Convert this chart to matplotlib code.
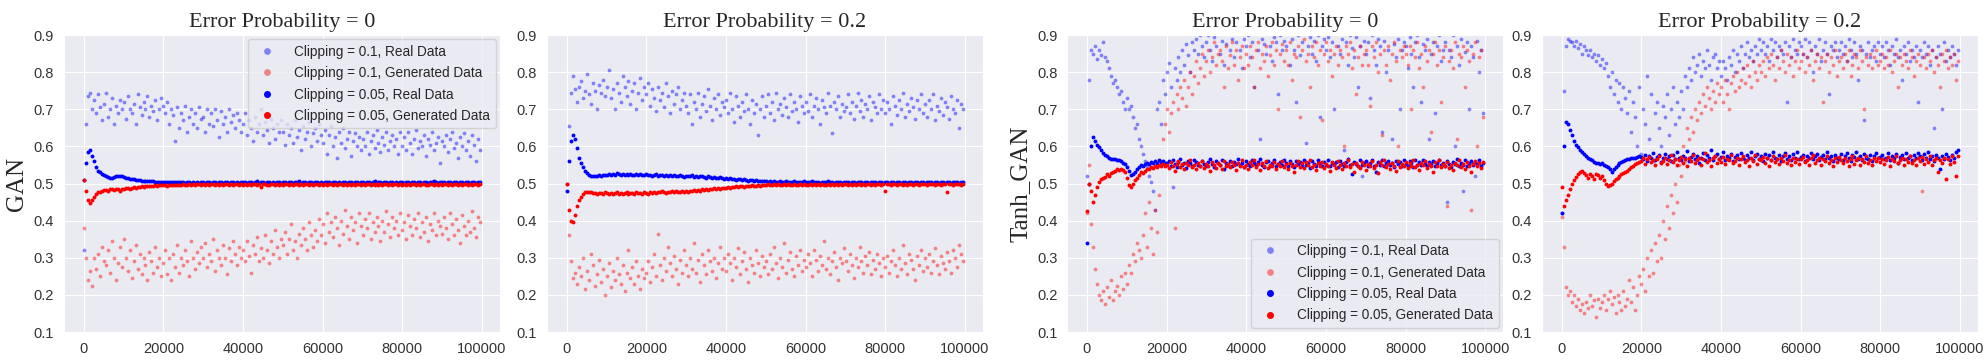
import numpy as np
import matplotlib
matplotlib.use("Agg")
from matplotlib import pyplot as plt
import seaborn as sns

# iteration step between logged points
STEP = 500

titles = ["Error Probability = 0", "Error Probability = 0.2",
          "Error Probability = 0", "Error Probability = 0.2"]
ylabels = ["GAN", None, "Tanh_GAN", None]
labels = ["Clipping = 0.1, Real Data", "Clipping = 0.1, Generated Data",
          "Clipping = 0.05, Real Data", "Clipping = 0.05, Generated Data"]
yticks = [0.1, 0.2, 0.3, 0.4, 0.5, 0.6, 0.7, 0.8, 0.9]
xticks = [0, 20000, 40000, 60000, 80000, 100000]

# all values below are discriminator outputs in thousandths

# ---- GAN, error probability 0 ----
gan0_real01 = [
    320, 660, 735, 745, 700, 725, 690, 740, 705, 670, 715, 745, 680, 700, 730, 660, 710, 690, 725, 700,
    720, 675, 735, 700, 690, 715, 660, 740, 705, 685, 720, 700, 735, 680, 710, 695, 725, 670, 700, 730,
    710, 690, 720, 660, 700, 685, 615, 705, 650, 690, 670, 710, 640, 680, 700, 660, 690, 650, 705, 675,
    680, 640, 700, 660, 690, 655, 700, 670, 625, 695, 660, 680, 640, 700, 665, 685, 650, 690, 670, 640,
    660, 690, 630, 670, 650, 615, 680, 640, 660, 700, 630, 665, 645, 610, 675, 650, 620, 660, 640, 670,
    640, 605, 660, 630, 650, 610, 670, 625, 645, 590, 655, 620, 640, 665, 600, 635, 650, 615, 660, 630,
    610, 645, 580, 630, 655, 600, 625, 570, 640, 610, 650, 595, 620, 640, 575, 615, 635, 600, 625, 590,
    620, 600, 640, 580, 615, 630, 595, 645, 610, 585, 625, 605, 640, 590, 615, 630, 600, 620, 580, 640,
    600, 625, 590, 640, 610, 580, 620, 645, 595, 615, 600, 630, 575, 620, 605, 640, 590, 610, 625, 555,
    615, 600, 630, 585, 620, 640, 595, 610, 570, 625, 600, 635, 590, 615, 575, 630, 605, 560, 620, 590,
]
gan0_gen01 = [
    380, 300, 240, 265, 225, 300, 270, 310, 250, 330, 290, 280, 320, 260, 345, 300, 240, 285, 330, 275,
    350, 300, 265, 320, 245, 290, 335, 270, 310, 255, 300, 280, 240, 315, 290, 260, 330, 275, 300, 250,
    285, 320, 255, 300, 240, 310, 275, 335, 260, 300, 280, 320, 290, 250, 345, 300, 270, 315, 285, 330,
    300, 340, 275, 310, 290, 350, 265, 320, 300, 280, 335, 300, 255, 325, 290, 345, 310, 280, 330, 300,
    320, 290, 345, 305, 260, 335, 310, 355, 290, 325, 300, 360, 320, 285, 345, 310, 375, 330, 300, 350,
    335, 370, 310, 350, 390, 320, 345, 300, 365, 335, 380, 350, 320, 395, 360, 330, 375, 345, 405, 360,
    390, 340, 420, 370, 395, 355, 410, 380, 335, 400, 365, 430, 385, 350, 410, 375, 395, 340, 420, 385,
    360, 405, 380, 420, 350, 395, 370, 410, 385, 345, 400, 370, 425, 390, 355, 410, 380, 400, 360, 420,
    375, 395, 350, 415, 385, 360, 405, 380, 420, 355, 395, 370, 410, 345, 390, 375, 420, 360, 400, 385,
    365, 410, 380, 350, 420, 390, 360, 405, 375, 340, 415, 385, 360, 400, 370, 425, 380, 355, 410, 395,
]
gan0_real005 = [
    510, 555, 585, 590, 575, 560, 545, 535, 530, 525, 522, 520, 518, 516, 515, 517, 519, 520, 521, 519,
    518, 516, 514, 513, 512, 511, 510, 510, 509, 508, 508, 507, 507, 506, 506, 506, 505, 505, 505, 504,
    505, 504, 504, 505, 503, 504, 503, 504, 503, 503, 504, 502, 503, 503, 502, 503, 502, 503, 502, 503,
    503, 502, 504, 503, 502, 505, 503, 502, 504, 503, 502, 503, 505, 502, 503, 504, 502, 503, 501, 504,
    503, 505, 502, 503, 504, 502, 503, 506, 502, 503, 504, 502, 503, 505, 502, 503, 501, 504, 503, 502,
    504, 503, 502, 505, 503, 502, 504, 503, 506, 502, 503, 504, 502, 503, 505, 502, 503, 504, 502, 503,
    502, 504, 503, 505, 502, 503, 504, 502, 503, 501, 504, 503, 502, 505, 503, 502, 504, 503, 502, 503,
    505, 502, 503, 504, 502, 503, 506, 502, 503, 504, 502, 503, 505, 502, 503, 504, 502, 503, 501, 504,
    503, 502, 504, 503, 502, 505, 503, 502, 504, 503, 502, 503, 505, 502, 503, 504, 508, 503, 502, 504,
    503, 505, 502, 503, 504, 502, 503, 505, 502, 503, 504, 502, 503, 505, 502, 503, 504, 502, 503, 504,
]
gan0_gen005 = [
    510, 480, 455, 448, 455, 465, 472, 476, 478, 480, 482, 483, 481, 484, 485, 482, 486, 484, 480, 486,
    485, 487, 488, 486, 489, 490, 488, 491, 490, 492, 491, 493, 492, 494, 493, 494, 495, 494, 496, 495,
    495, 496, 494, 496, 497, 495, 496, 497, 496, 497, 498, 496, 497, 498, 497, 498, 497, 498, 499, 497,
    498, 497, 499, 496, 498, 500, 497, 498, 496, 499, 497, 498, 500, 496, 498, 497, 499, 498, 496, 500,
    497, 498, 496, 499, 497, 498, 500, 496, 498, 490, 499, 498, 496, 497, 499, 498, 497, 500, 496, 498,
    497, 499, 498, 496, 500, 497, 498, 499, 496, 498, 497, 500, 498, 496, 499, 497, 498, 500, 497, 498,
    496, 499, 497, 498, 500, 496, 498, 497, 499, 498, 496, 500, 497, 498, 496, 499, 497, 498, 500, 496,
    498, 497, 499, 498, 496, 500, 497, 498, 496, 499, 497, 498, 500, 496, 498, 497, 499, 498, 496, 500,
    497, 498, 496, 499, 497, 498, 500, 496, 498, 497, 499, 498, 496, 497, 499, 498, 497, 500, 496, 498,
    497, 499, 498, 496, 500, 497, 498, 499, 496, 498, 497, 500, 498, 496, 499, 497, 498, 500, 497, 499,
]

# ---- GAN, error probability 0.2 ----
gan2_real01 = [
    500, 655, 745, 790, 755, 720, 760, 775, 730, 750, 795, 740, 715, 770, 750, 700, 765, 745, 780, 735,
    760, 805, 730, 755, 700, 770, 745, 720, 790, 760, 735, 775, 715, 750, 770, 700, 745, 785, 725, 760,
    740, 770, 710, 755, 730, 695, 760, 725, 745, 705, 770, 735, 690, 750, 715, 740, 760, 700, 725, 745,
    710, 690, 740, 660, 720, 700, 745, 680, 715, 735, 695, 755, 710, 670, 730, 700, 740, 685, 720, 705,
    725, 690, 745, 700, 665, 735, 710, 680, 720, 695, 740, 700, 660, 725, 690, 715, 630, 700, 735, 680,
    710, 740, 690, 720, 670, 745, 700, 715, 685, 730, 705, 680, 740, 695, 720, 700, 665, 735, 710, 690,
    720, 695, 740, 680, 710, 730, 700, 660, 725, 705, 690, 745, 710, 635, 720, 700, 735, 680, 715, 695,
    705, 740, 690, 720, 675, 710, 745, 695, 725, 680, 715, 700, 735, 670, 720, 705, 690, 740, 700, 725,
    690, 720, 700, 660, 735, 710, 685, 725, 700, 745, 680, 715, 695, 730, 705, 675, 725, 700, 740, 690,
    715, 680, 725, 700, 740, 670, 710, 695, 730, 685, 720, 705, 675, 735, 700, 690, 725, 650, 715, 700,
]
gan2_gen01 = [
    500, 360, 290, 245, 260, 230, 275, 250, 300, 215, 265, 240, 310, 280, 225, 255, 295, 235, 270, 200,
    250, 285, 220, 265, 240, 300, 255, 230, 280, 210, 260, 320, 245, 275, 230, 290, 250, 215, 270, 245,
    260, 290, 235, 275, 310, 250, 365, 280, 240, 300, 265, 330, 285, 250, 305, 270, 230, 295, 260, 320,
    280, 250, 300, 270, 340, 260, 295, 235, 310, 280, 255, 320, 290, 265, 300, 245, 285, 330, 270, 300,
    265, 310, 285, 240, 300, 275, 325, 255, 290, 315, 270, 235, 300, 280, 260, 320, 285, 250, 305, 275,
    290, 255, 310, 270, 330, 285, 245, 300, 275, 340, 260, 295, 315, 270, 250, 305, 280, 320, 265, 295,
    275, 310, 285, 250, 320, 295, 265, 305, 280, 345, 270, 300, 255, 290, 315, 275, 240, 300, 285, 325,
    290, 265, 310, 280, 245, 300, 275, 330, 290, 260, 305, 280, 315, 255, 295, 270, 310, 285, 250, 300,
    275, 305, 260, 290, 320, 280, 250, 300, 270, 335, 285, 255, 310, 295, 270, 240, 305, 280, 320, 265,
    300, 275, 310, 260, 290, 325, 280, 255, 305, 285, 270, 315, 290, 260, 320, 300, 275, 335, 310, 290,
]
gan2_real005 = [
    480, 560, 615, 630, 620, 595, 570, 555, 545, 535, 528, 522, 520, 519, 520, 521, 522, 520, 523, 524,
    524, 525, 523, 526, 524, 527, 525, 523, 526, 524, 525, 522, 526, 524, 523, 525, 522, 526, 523, 524,
    525, 522, 524, 520, 523, 525, 521, 524, 522, 520, 523, 521, 524, 520, 522, 519, 521, 523, 520, 518,
    521, 519, 520, 522, 518, 520, 517, 519, 521, 518, 516, 519, 517, 515, 518, 516, 514, 517, 515, 513,
    515, 512, 514, 511, 513, 510, 512, 511, 509, 511, 510, 508, 510, 509, 507, 509, 508, 506, 508, 507,
    506, 505, 507, 504, 506, 505, 504, 506, 503, 505, 507, 504, 505, 503, 506, 504, 505, 503, 504, 506,
    505, 503, 504, 506, 503, 505, 504, 502, 505, 503, 504, 506, 503, 504, 502, 505, 503, 504, 502, 505,
    503, 504, 502, 505, 503, 502, 504, 503, 505, 502, 504, 503, 502, 505, 503, 504, 502, 503, 505, 502,
    504, 503, 502, 505, 503, 502, 504, 503, 501, 504, 503, 502, 505, 503, 502, 504, 503, 502, 504, 503,
    502, 504, 503, 505, 502, 503, 504, 502, 503, 505, 502, 504, 503, 502, 504, 503, 505, 502, 503, 504,
]
gan2_gen005 = [
    500, 430, 400, 395, 415, 440, 455, 465, 472, 476, 478, 477, 476, 475, 474, 473, 475, 474, 472, 476,
    474, 473, 475, 472, 474, 476, 473, 475, 472, 474, 476, 473, 475, 474, 472, 476, 474, 475, 473, 476,
    475, 473, 476, 474, 477, 475, 478, 476, 479, 477, 475, 478, 476, 479, 477, 480, 478, 476, 479, 478,
    480, 478, 481, 479, 482, 480, 483, 481, 484, 482, 485, 483, 486, 484, 487, 485, 488, 486, 489, 487,
    488, 490, 489, 491, 490, 492, 491, 493, 492, 491, 494, 492, 493, 495, 493, 494, 496, 494, 495, 496,
    496, 498, 495, 497, 499, 496, 498, 497, 495, 498, 496, 499, 497, 495, 498, 496, 497, 499, 496, 498,
    497, 495, 498, 496, 499, 497, 498, 496, 499, 497, 495, 498, 497, 499, 496, 498, 497, 499, 496, 498,
    499, 497, 498, 496, 499, 497, 498, 500, 496, 498, 497, 499, 498, 496, 499, 497, 498, 500, 497, 498,
    480, 498, 499, 497, 498, 500, 497, 499, 498, 496, 499, 497, 498, 500, 497, 499, 498, 497, 499, 500,
    498, 497, 499, 498, 500, 497, 498, 499, 497, 498, 500, 476, 498, 499, 497, 500, 498, 499, 497, 500,
]

# ---- Tanh_GAN, error probability 0 ----
tanh0_real01 = [
    520, 780, 860, 850, 870, 835, 860, 845, 880, 840, 830, 810, 790, 770, 780, 760, 740, 750, 720, 700,
    730, 700, 710, 680, 650, 660, 620, 600, 580, 560, 545, 520, 505, 480, 430, 700, 720, 660, 780, 740,
    800, 825, 760, 490, 810, 780, 840, 800, 860, 820, 875, 845, 800, 880, 860, 890, 850, 900, 870, 840,
    880, 900, 860, 830, 895, 870, 910, 850, 885, 820, 875, 905, 860, 890, 840, 880, 915, 860, 810, 890,
    870, 900, 840, 880, 760, 905, 860, 620, 890, 875, 850, 910, 870, 830, 895, 880, 740, 900, 860, 885,
    870, 905, 820, 890, 860, 720, 900, 845, 880, 910, 610, 870, 895, 850, 885, 830, 900, 680, 870, 890,
    860, 895, 840, 880, 700, 905, 870, 850, 890, 590, 880, 820, 900, 865, 840, 895, 760, 870, 520, 885,
    850, 880, 730, 900, 860, 820, 890, 870, 640, 885, 800, 860, 905, 620, 875, 840, 890, 700, 860, 880,
    870, 810, 895, 850, 760, 880, 900, 840, 720, 875, 860, 890, 620, 850, 880, 690, 870, 900, 830, 860,
    880, 450, 860, 840, 900, 600, 870, 820, 890, 480, 855, 880, 700, 870, 840, 520, 885, 800, 860, 690,
]
tanh0_gen01 = [
    420, 550, 390, 330, 270, 230, 200, 185, 210, 175, 220, 195, 240, 185, 210, 225, 200, 250, 215, 260,
    230, 280, 260, 310, 290, 340, 320, 300, 360, 420, 330, 450, 380, 310, 430, 370, 470, 560, 620, 660,
    700, 640, 690, 720, 380, 740, 700, 760, 730, 780, 710, 760, 800, 740, 790, 830, 770, 810, 850, 790,
    830, 860, 800, 840, 880, 820, 850, 860, 830, 760, 870, 810, 845, 880, 820, 860, 780, 840, 870, 810,
    850, 820, 870, 840, 760, 860, 880, 810, 850, 830, 870, 790, 845, 880, 820, 860, 700, 850, 875, 830,
    860, 820, 880, 780, 850, 840, 870, 680, 860, 890, 830, 850, 760, 870, 840, 880, 820, 860, 670, 850,
    880, 830, 860, 790, 850, 870, 820, 860, 840, 600, 870, 850, 880, 810, 860, 740, 840, 870, 820, 850,
    860, 820, 710, 870, 840, 880, 800, 850, 630, 860, 820, 870, 780, 850, 880, 830, 600, 860, 840, 870,
    850, 820, 870, 700, 860, 840, 880, 810, 850, 760, 870, 830, 860, 640, 850, 880, 820, 860, 720, 840,
    870, 440, 830, 860, 810, 880, 620, 850, 840, 870, 760, 860, 830, 430, 850, 880, 600, 840, 860, 680,
]
tanh0_real005 = [
    340, 500, 600, 625, 615, 605, 598, 590, 583, 578, 574, 570, 567, 565, 566, 564, 562, 560, 556, 552,
    545, 535, 522, 525, 532, 540, 545, 550, 548, 553, 556, 552, 558, 555, 560, 556, 562, 558, 560, 555,
    555, 560, 548, 562, 553, 545, 558, 565, 550, 556, 542, 560, 554, 548, 563, 557, 550, 546, 561, 553,
    548, 558, 566, 552, 545, 560, 555, 549, 563, 540, 556, 551, 560, 547, 558, 553, 565, 549, 556, 544,
    560, 552, 547, 563, 555, 549, 558, 566, 551, 545, 557, 560, 548, 554, 562, 546, 553, 559, 550, 564,
    556, 548, 561, 553, 545, 560, 552, 558, 547, 564, 551, 556, 543, 560, 553, 548, 562, 555, 546, 558,
    550, 563, 547, 556, 552, 559, 544, 561, 553, 548, 557, 565, 550, 525, 558, 553, 546, 562, 549, 556,
    560, 547, 554, 562, 548, 530, 557, 551, 563, 546, 555, 560, 549, 556, 544, 561, 552, 558, 547, 563,
    553, 548, 560, 555, 545, 562, 551, 557, 549, 564, 553, 546, 558, 552, 560, 547, 556, 562, 550, 555,
    548, 561, 553, 545, 559, 552, 566, 548, 556, 550, 562, 547, 555, 560, 549, 557, 552, 563, 546, 556,
]
tanh0_gen005 = [
    425, 500, 480, 450, 470, 490, 505, 512, 515, 518, 525, 520, 528, 530, 535, 538, 536, 540, 537, 530,
    515, 495, 490, 500, 510, 515, 522, 530, 528, 535, 538, 540, 545, 542, 548, 545, 550, 546, 552, 548,
    550, 543, 557, 548, 535, 552, 560, 545, 553, 540, 556, 549, 562, 544, 551, 538, 555, 547, 560, 542,
    553, 546, 535, 558, 549, 543, 556, 551, 539, 561, 547, 553, 544, 557, 550, 536, 555, 548, 562, 545,
    551, 540, 557, 549, 563, 544, 552, 537, 556, 548, 560, 543, 551, 546, 558, 539, 553, 547, 561, 544,
    552, 538, 556, 548, 530, 551, 560, 545, 554, 541, 557, 549, 563, 544, 550, 536, 555, 547, 559, 542,
    553, 546, 534, 557, 549, 543, 560, 551, 538, 555, 548, 562, 544, 552, 530, 556, 547, 541, 558, 550,
    536, 553, 546, 560, 543, 551, 528, 557, 549, 562, 545, 553, 539, 556, 548, 535, 560, 544, 552, 547,
    558, 541, 554, 548, 563, 545, 551, 537, 556, 549, 560, 543, 552, 546, 530, 557, 548, 562, 544, 553,
    547, 559, 542, 551, 536, 556, 549, 562, 545, 553, 540, 557, 548, 531, 552, 560, 546, 554, 543, 558,
]

# ---- Tanh_GAN, error probability 0.2 ----
tanh2_real01 = [
    420, 750, 870, 890, 885, 880, 870, 885, 865, 875, 850, 870, 860, 845, 860, 840, 850, 830, 845, 820,
    835, 810, 825, 790, 760, 800, 740, 780, 720, 770, 700, 760, 730, 690, 750, 640, 720, 680, 600, 760,
    580, 700, 660, 790, 620, 740, 560, 690, 720, 650, 600, 710, 680, 740, 630, 700, 760, 660, 720, 680,
    750, 700, 790, 760, 810, 780, 840, 800, 820, 850, 790, 830, 810, 860, 820, 780, 840, 850, 810, 830,
    790, 830, 810, 780, 840, 820, 860, 800, 850, 830, 870, 810, 850, 880, 840, 860, 830, 870, 850, 890,
    860, 880, 850, 870, 830, 890, 860, 880, 840, 870, 860, 850, 880, 720, 870, 840, 890, 860, 850, 880,
    870, 850, 890, 840, 880, 860, 800, 870, 850, 890, 830, 860, 880, 850, 740, 870, 860, 880, 840, 860,
    880, 850, 870, 830, 890, 860, 840, 880, 850, 780, 870, 860, 670, 850, 880, 840, 860, 870, 830, 880,
    850, 870, 840, 880, 860, 820, 870, 850, 890, 840, 860, 780, 870, 850, 880, 830, 860, 840, 870, 720,
    860, 840, 880, 850, 870, 820, 860, 650, 840, 870, 850, 700, 880, 830, 860, 840, 870, 850, 820, 860,
]
tanh2_gen01 = [
    410, 330, 220, 200, 210, 180, 200, 170, 190, 160, 175, 150, 180, 165, 200, 170, 185, 140, 190, 165,
    180, 200, 160, 190, 210, 175, 195, 150, 200, 180, 160, 210, 170, 190, 240, 180, 220, 160, 200, 250,
    230, 270, 210, 300, 250, 320, 260, 340, 290, 360, 300, 400, 350, 440, 380, 470, 420, 500, 450, 550,
    520, 600, 560, 650, 620, 680, 640, 700, 670, 720, 690, 740, 710, 760, 730, 700, 750, 720, 770, 740,
    760, 720, 780, 740, 700, 770, 790, 750, 800, 760, 780, 810, 770, 820, 790, 760, 830, 800, 780, 820,
    800, 830, 790, 840, 810, 850, 820, 780, 840, 810, 860, 830, 800, 850, 820, 840, 790, 830, 860, 810,
    830, 850, 800, 840, 820, 860, 780, 830, 850, 810, 840, 720, 830, 850, 800, 840, 820, 860, 790, 830,
    840, 810, 850, 830, 860, 790, 820, 850, 840, 810, 860, 830, 700, 840, 820, 850, 810, 840, 860, 820,
    830, 850, 810, 840, 820, 860, 800, 830, 850, 760, 840, 820, 850, 830, 810, 860, 840, 790, 830, 850,
    820, 480, 840, 810, 850, 830, 860, 800, 840, 820, 760, 850, 830, 860, 810, 840, 820, 850, 780, 830,
]
tanh2_real005 = [
    420, 600, 665, 660, 645, 630, 615, 605, 598, 590, 585, 580, 575, 570, 565, 562, 558, 555, 556, 553,
    555, 550, 548, 545, 538, 532, 540, 545, 550, 555, 558, 560, 562, 565, 566, 568, 570, 568, 572, 575,
    572, 565, 578, 560, 574, 568, 582, 563, 571, 576, 558, 569, 580, 565, 573, 561, 577, 567, 584, 570,
    563, 575, 568, 587, 561, 572, 579, 566, 574, 556, 570, 581, 564, 576, 568, 590, 562, 573, 579, 566,
    571, 585, 563, 574, 569, 580, 560, 572, 578, 565, 582, 570, 562, 576, 568, 585, 564, 573, 579, 567,
    574, 561, 580, 569, 576, 563, 584, 570, 566, 578, 560, 573, 582, 567, 575, 563, 579, 570, 586, 565,
    572, 578, 561, 575, 568, 583, 566, 573, 580, 562, 571, 577, 565, 584, 569, 574, 561, 578, 570, 567,
    579, 564, 573, 582, 568, 560, 576, 571, 585, 566, 574, 563, 580, 570, 567, 577, 561, 575, 583, 569,
    572, 578, 565, 570, 582, 563, 575, 568, 580, 556, 571, 577, 566, 583, 570, 575, 562, 578, 568, 581,
    574, 564, 579, 570, 585, 566, 573, 560, 577, 569, 540, 575, 565, 580, 571, 562, 576, 568, 584, 590,
]
tanh2_gen005 = [
    490, 440, 455, 470, 485, 500, 510, 518, 525, 530, 535, 528, 522, 515, 525, 520, 512, 525, 522, 515,
    520, 510, 498, 492, 495, 500, 508, 512, 515, 520, 525, 528, 530, 535, 540, 545, 548, 552, 555, 558,
    560, 568, 553, 565, 572, 557, 562, 549, 566, 575, 555, 561, 570, 552, 564, 578, 558, 567, 550, 563,
    571, 556, 565, 548, 569, 560, 576, 554, 563, 570, 551, 566, 581, 558, 562, 547, 568, 574, 556, 565,
    559, 571, 552, 566, 563, 578, 555, 561, 569, 550, 567, 573, 557, 564, 548, 570, 560, 576, 553, 566,
    562, 571, 555, 568, 547, 563, 575, 558, 566, 552, 569, 561, 578, 556, 564, 550, 570, 559, 567, 553,
    565, 572, 557, 563, 549, 568, 576, 554, 562, 570, 551, 566, 560, 574, 556, 563, 548, 569, 558, 571,
    563, 555, 570, 560, 548, 566, 575, 553, 562, 569, 550, 565, 559, 573, 556, 564, 549, 568, 561, 570,
    557, 566, 552, 563, 571, 548, 567, 560, 575, 554, 562, 569, 551, 565, 558, 573, 556, 564, 550, 569,
    560, 571, 553, 565, 557, 574, 549, 562, 568, 530, 563, 555, 570, 512, 566, 553, 574, 558, 520, 575,
]

panels = [
    [gan0_real01, gan0_gen01, gan0_real005, gan0_gen005],
    [gan2_real01, gan2_gen01, gan2_real005, gan2_gen005],
    [tanh0_real01, tanh0_gen01, tanh0_real005, tanh0_gen005],
    [tanh2_real01, tanh2_gen01, tanh2_real005, tanh2_gen005],
]

sns.set_style("darkgrid")
plt.rcParams["font.family"] = ["Liberation Sans", "DejaVu Sans"]

fig = plt.figure(figsize=(19.86, 3.61), dpi=100)

# axes placement (left edge, in figure fraction) - two figures side by side
lefts = [0.0322, 0.2754, 0.5373, 0.7764]
width = 0.2195
bottom, height = 0.0803, 0.8227

colors = ["blue", "red", "blue", "red"]
alphas = [0.45, 0.45, 1.0, 1.0]
sizes = [2.7, 2.7, 2.8, 2.8]

for k, series in enumerate(panels):
    ax = fig.add_axes([lefts[k], bottom, width, height])
    for j, vals in enumerate(series):
        y = np.array(vals) / 1000.0
        x = np.arange(len(y)) * STEP
        ax.plot(x, y, "o", ms=sizes[j], mew=0, color=colors[j], alpha=alphas[j], label=labels[j])
    ax.set_ylim(0.1, 0.9)
    ax.set_yticks(yticks)
    ax.set_xticks(xticks)
    ax.tick_params(labelsize=10.5, colors="#333333")
    ax.set_title(titles[k], fontsize=16, family=["Liberation Serif"])
    if ylabels[k]:
        ax.set_ylabel(ylabels[k], fontsize=18, family=["Liberation Serif"])
    if k == 0:
        ax.legend(loc="upper right", fontsize=9.8, markerscale=1.8, frameon=True,
                  borderaxespad=0.3, labelspacing=0.55, handletextpad=1.0)
    if k == 2:
        ax.legend(loc="lower right", fontsize=9.8, markerscale=1.8, frameon=True,
                  borderaxespad=0.3, labelspacing=0.55, handletextpad=1.0)

fig.savefig("out.png", dpi=100)
